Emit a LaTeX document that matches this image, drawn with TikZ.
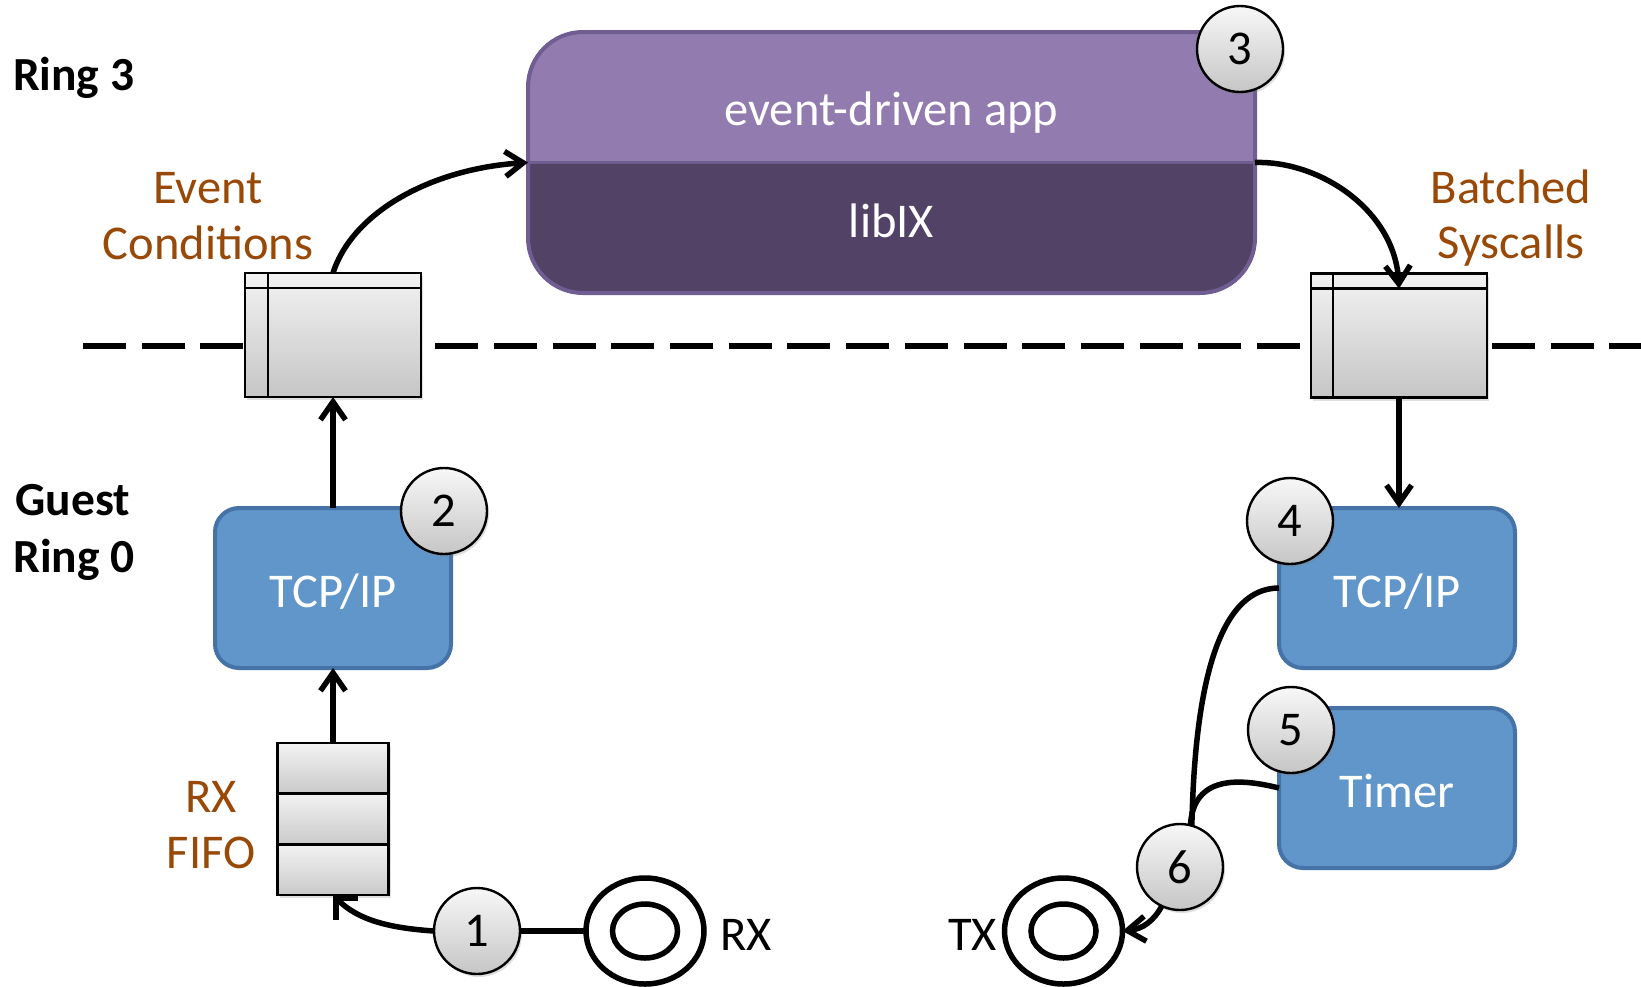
\documentclass[tikz,border=0pt]{standalone}
\usepackage{fontspec}
\setmainfont{Carlito}
\usetikzlibrary{arrows.meta,shapes.geometric,shadows,calc}
\definecolor{brn}{HTML}{984807}
\definecolor{bluefill}{RGB}{96,150,201}
\definecolor{blueedge}{RGB}{69,114,167}
\definecolor{ptop}{RGB}{146,123,175}
\definecolor{pbot}{RGB}{82,66,102}
\definecolor{pedge}{RGB}{112,93,145}
\begin{document}
\begin{tikzpicture}[x=1pt,y=1pt,
  every node/.style={inner sep=0pt, outer sep=0pt},
  txt/.style={font=\fontsize{48.5}{58}\selectfont},
  btxt/.style={font=\fontsize{47.5}{57}\selectfont\bfseries},
  lbl/.style={txt, text=brn},
  conn/.style={line width=5.5pt, black},
  arr/.style={conn, -{Straight Barb[length=18pt,width=25pt]}},
  arrb/.style={conn, -{Straight Barb[length=16pt,width=32pt]}},
  shd/.style={drop shadow={shadow xshift=2pt,shadow yshift=-3pt,opacity=0.25}},
  bufbox/.style={draw=black, line width=2.7pt, top color=gray!10, bottom color=gray!45,
     minimum width=176pt, minimum height=124pt, shd},
  bufline/.style={draw=black, line width=2.7pt},
  fifocell/.style={draw=black, line width=2.7pt, top color=gray!10, bottom color=gray!42,
     minimum width=111pt, minimum height=50.67pt, shd},
  bluebox/.style={draw=blueedge, fill=bluefill, line width=4pt, rounded corners=24pt,
     minimum width=236pt, minimum height=160pt, txt, text=white, text height=38pt, text depth=0pt},
  circ/.style={circle, draw=black, line width=2.4pt, top color=gray!6, bottom color=gray!45,
     minimum size=86pt, txt, shd},
  ring/.style={ellipse, draw=black, line width=5.5pt},
]
\useasboundingbox (0,0) rectangle (1641,-986);
% ring boundary
\draw[line width=5.5pt, dash pattern=on 43pt off 15.7pt] (83,-346) -- (1641,-346);

% side labels
\node[btxt, anchor=base west] (ring3) at (13,-90) {Ring 3};
\node[btxt, anchor=base] (guest) at (73,-515) {Guest};
\node[btxt, anchor=base] (ring0) at (74,-572) {Ring 0};
\node[lbl, anchor=base] (ev1) at (208,-203) {Event};
\node[lbl, anchor=base] (ev2) at (208,-259) {Conditions};
\node[lbl, anchor=base] (bs1) at (1511,-203) {Batched};
\node[lbl, anchor=base] (bs2) at (1511,-258) {Syscalls};
\node[lbl, anchor=base] (rxl1) at (211,-812) {RX};
\node[lbl, anchor=base] (rxl2) at (211,-868) {FIFO};
\node[txt, anchor=base west] (rxlabel) at (720,-950) {RX};
\node[txt, anchor=base west] (txlabel) at (948,-950) {TX};

% buffers
\node[bufbox] (lbuf) at (333,-335) {};
\draw[bufline] ([yshift=-15pt]lbuf.north west) -- ([yshift=-15pt]lbuf.north east);
\draw[bufline] ([xshift=23pt]lbuf.north west) -- ([xshift=23pt]lbuf.south west);
\node[bufbox] (rbuf) at (1399,-335.5) {};
\draw[bufline] ([yshift=-15pt]rbuf.north west) -- ([yshift=-15pt]rbuf.north east);
\draw[bufline] ([xshift=22pt]rbuf.north west) -- ([xshift=22pt]rbuf.south west);

% application box
\node[minimum width=727pt, minimum height=261pt, rounded corners=55pt, fill=pbot] (app) at (891.5,-162.5) {};
\begin{scope}
  \clip ([xshift=-10pt]app.west) rectangle ([xshift=10pt,yshift=10pt]app.north east);
  \fill[ptop, rounded corners=55pt] (app.south west) rectangle (app.north east);
\end{scope}
\draw[pedge, line width=3pt] (app.west) -- (app.east);
\draw[pedge, line width=4pt, rounded corners=55pt] (app.south west) rectangle (app.north east);
\node[txt, text=white, anchor=base] (appt) at (891.5,-125) {event-driven app};
\node[txt, text=white, anchor=base] (libt) at (891.5,-237) {libIX};

% blue boxes
\node[bluebox] (tcp1) at (333,-588) {TCP/IP};
\node[bluebox] (tcp2) at (1397,-588) {TCP/IP};
\node[bluebox] (timer) at (1397,-788) {Timer};

% FIFO
\node[fifocell] (fifo1) at (333,-768.3) {};
\node[fifocell] (fifo2) at (333,-819) {};
\node[fifocell] (fifo3) at (333,-869.7) {};

% NIC rings
\node[ring, minimum width=118pt, minimum height=106pt] (rxo) at (645,-931) {};
\node[ring, minimum width=65pt, minimum height=54pt] (rxi) at (645,-931) {};
\node[ring, minimum width=118pt, minimum height=106pt] (txo) at (1063.5,-931) {};
\node[ring, minimum width=65pt, minimum height=54pt] (txi) at (1063.5,-931) {};

% numbered circles
\node[circ] (c1) at (477,-931) {1};
\node[circ] (c2) at (444,-511) {2};
\node[circ] (c3) at (1240,-49) {3};
\node[circ] (c4) at (1290,-521) {4};
\node[circ] (c5) at (1291,-730) {5};
\node[circ] (c6) at (1180,-867) {6};

% connectors
\draw[arr] (fifo1.north) -- (tcp1.south);
\draw[arr] (tcp1.north) -- (lbuf.south);
\draw[arr] (lbuf.north) .. controls +(20,62) and +(-95,-6) .. (app.west);
\draw[arr] (app.east) .. controls +(65,2) and +(-4,78) .. ([yshift=-15pt]rbuf.north);
\draw[arr] (rbuf.south) -- (rbuf.south |- tcp2.north);
\draw[conn] (rxo.west) -- (c1.east);
\draw[arrb] (c1.west) .. controls +(-45,3) and +(25,-25) .. (fifo3.south);
\draw[conn] (tcp2.west) .. controls +(-59,0) and +(3,145) .. (c6.74);
\draw[conn] (timer.west) .. controls +(-40,10) and +(3,50) .. (c6.76);
\draw[arr] (c6.-115) .. controls +(-8,-15) and +(20,2) .. (txo.east);
\end{tikzpicture}
\end{document}
